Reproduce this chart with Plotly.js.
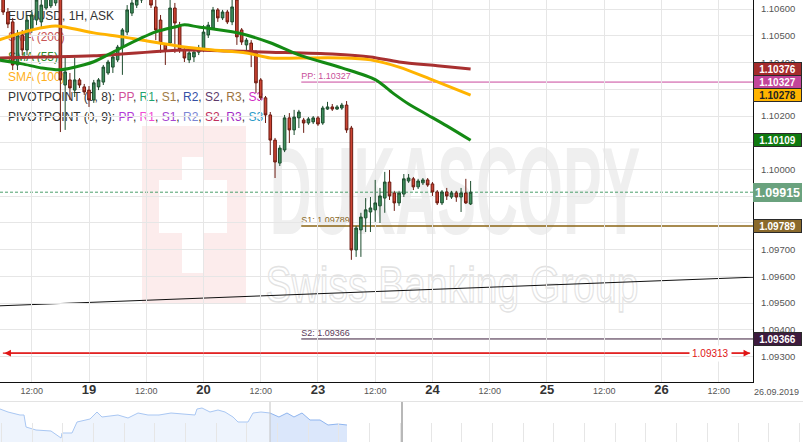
<!DOCTYPE html>
<html>
<head>
<meta charset="utf-8">
<script src="https://cdn.plot.ly/plotly-3.0.1.min.js"></script>
<style>html,body{margin:0;padding:0;background:#fff;}#chart{width:803px;height:442px;}</style>
</head>
<body>
<div id="chart"></div>
<script>
// ---------- DATA (hour index counted from 18.09.2019 00:00, weekend removed) ----------
const firstHour = 6;
const open = [
 1.10641,1.10589,1.10552,1.10391,1.10503,1.10447,1.10522,1.10559,1.10552,1.10604,
 1.10612,1.10623,1.10653,1.10316,1.10335,1.10297,1.10335,1.10309,1.10297,1.10260,
 1.10309,1.10327,1.10361,1.10383,1.10410,1.10458,1.10514,1.10585,1.10615,1.10634,
 1.10656,1.10641,1.10608,1.10559,1.10466,1.10473,1.10604,1.10540,1.10447,1.10410,
 1.10421,1.10439,1.10447,1.10503,1.10529,1.10597,1.10567,1.10589,1.10552,1.10634,
 1.10522,1.10466,1.10473,1.10439,1.10335,1.10268,1.10204,1.10110,1.10024,1.10073,
 1.10193,1.10148,1.10193,1.10185,1.10174,1.10178,1.10193,1.10174,1.10226,1.10234,
 1.10226,1.10230,1.10241,1.10155,1.09699,1.09774,1.09819,1.09841,1.09849,1.09864,
 1.09893,1.09953,1.09912,1.09875,1.09908,1.09957,1.09965,1.09935,1.09950,1.09961,
 1.09946,1.09916,1.09875,1.09916,1.09897,1.09912,1.09897,1.09912,1.09871];
const high = [
 1.10656,1.10604,1.10567,1.10522,1.10522,1.10578,1.10597,1.10664,1.10634,1.10664,
 1.10671,1.10671,1.10671,1.10417,1.10361,1.10417,1.10342,1.10320,1.10312,1.10335,
 1.10342,1.10391,1.10410,1.10432,1.10466,1.10529,1.10615,1.10634,1.10653,1.10671,
 1.10671,1.10664,1.10634,1.10578,1.10473,1.10634,1.10623,1.10552,1.10454,1.10454,
 1.10447,1.10466,1.10540,1.10552,1.10608,1.10604,1.10597,1.10597,1.10634,1.10649,
 1.10529,1.10492,1.10484,1.10447,1.10342,1.10275,1.10215,1.10118,1.10091,1.10204,
 1.10211,1.10223,1.10223,1.10193,1.10196,1.10200,1.10200,1.10238,1.10253,1.10245,
 1.10241,1.10249,1.10256,1.10163,1.09789,1.09838,1.09893,1.09897,1.09961,1.09931,
 1.09991,1.09998,1.09920,1.09920,1.09983,1.09983,1.09972,1.09965,1.09968,1.09968,
 1.09953,1.09923,1.09923,1.09931,1.09920,1.09920,1.09931,1.09965,1.09957];
const low = [
 1.10578,1.10529,1.10372,1.10372,1.10428,1.10428,1.10511,1.10540,1.10529,1.10597,
 1.10604,1.10612,1.10140,1.10148,1.10260,1.10271,1.10305,1.10279,1.10234,1.10249,
 1.10297,1.10316,1.10354,1.10361,1.10402,1.10354,1.10503,1.10574,1.10604,1.10623,
 1.10634,1.10604,1.10484,1.10436,1.10391,1.10466,1.10436,1.10436,1.10402,1.10398,
 1.10402,1.10428,1.10439,1.10492,1.10522,1.10552,1.10559,1.10544,1.10540,1.10466,
 1.10466,1.10447,1.10383,1.10286,1.10260,1.10174,1.10054,1.09968,1.10013,1.10065,
 1.10099,1.10129,1.10155,1.10137,1.10167,1.10170,1.10163,1.10167,1.10223,1.10219,
 1.10223,1.10223,1.10137,1.09662,1.09673,1.09673,1.09766,1.09766,1.09804,1.09800,
 1.09838,1.09886,1.09845,1.09864,1.09897,1.09950,1.09923,1.09927,1.09942,1.09935,
 1.09901,1.09867,1.09867,1.09886,1.09890,1.09879,1.09841,1.09871,1.09867];
const close = [
 1.10589,1.10544,1.10391,1.10503,1.10447,1.10559,1.10578,1.10634,1.10615,1.10641,
 1.10645,1.10649,1.10335,1.10365,1.10305,1.10335,1.10316,1.10290,1.10260,1.10324,
 1.10335,1.10383,1.10402,1.10421,1.10458,1.10522,1.10597,1.10623,1.10634,1.10656,
 1.10645,1.10615,1.10522,1.10473,1.10447,1.10604,1.10548,1.10447,1.10417,1.10436,
 1.10439,1.10454,1.10514,1.10540,1.10597,1.10567,1.10589,1.10552,1.10608,1.10496,
 1.10477,1.10484,1.10436,1.10324,1.10268,1.10204,1.10110,1.10028,1.10080,1.10193,
 1.10148,1.10196,1.10215,1.10174,1.10189,1.10193,1.10170,1.10230,1.10234,1.10226,
 1.10234,1.10241,1.10148,1.09699,1.09781,1.09822,1.09849,1.09856,1.09875,1.09901,
 1.09953,1.09901,1.09875,1.09912,1.09965,1.09968,1.09935,1.09957,1.09961,1.09942,
 1.09916,1.09875,1.09916,1.09901,1.09912,1.09897,1.09912,1.09875,1.09915];

const sma55Hours  = [5,10,14,18,23,25,30,35,38,42,44,47,54,57,62,68,77,84,88,91,95,99,104];
const sma55       = [1.10410,1.10395,1.10380,1.10373,1.10392,1.10403,1.10448,1.10492,1.10515,1.10533,1.10541,1.10533,1.10515,1.10503,1.10474,1.10429,1.10380,1.10336,1.10282,1.10245,1.10204,1.10163,1.10109];
const sma100Hours = [5,12,17,25,31,35,44,50,57,62,68,77,83,89,96,104];
const sma100      = [1.10484,1.10522,1.10537,1.10511,1.10496,1.10484,1.10458,1.10447,1.10436,1.10417,1.10417,1.10417,1.10410,1.10383,1.10335,1.10278];
const sma200Hours = [5,25,44,54,62,75,83,89,97,104];
const sma200      = [1.10417,1.10425,1.10447,1.10443,1.10439,1.10432,1.10421,1.10402,1.10388,1.10376];

const pivotNames  = ['PP','S1','S2'];
const pivotValues = [1.10327,1.09789,1.09366];
const pivotStart  = 68.5;
const levelValue  = 1.09313;
const trendHours  = [5.34,163.2];
const trendValues = [1.09490,1.09597];

const tickHours  = [12,24,36,48,60,72,84,96,108,120,132,144,156];
const tickLabels = ['12:00','19','12:00','20','12:00','23','12:00','24','12:00','25','12:00','26','12:00'];
const endLabel   = '26.09.2019';
const priceTicks = [1.093,1.094,1.095,1.096,1.097,1.098,1.099,1.100,1.101,1.102,1.103,1.104,1.105,1.106];
const hiddenPriceTicks = [1.099,1.101,1.103];   // covered by the value boxes in the reference

// navigator (overview) series
const navPos    = [0,1.0,2.49,2.99,3.24,4.48,6.35,6.72,7.60,7.72,8.97,9.59,11.21,12.08,12.70,14.69,15.94,17.19,18.43,19.80,21.30,24.28,24.53,25.16,26.15,27.15,28.02,29.02,29.64,30.88,31.51,32.50,33.62];
const navValues = [1.1065,1.1050,1.1035,1.1035,1.0975,1.0960,1.0955,1.0945,1.0920,1.0945,1.0945,1.1000,1.1015,1.1050,1.1025,1.1035,1.1020,1.1045,1.1035,1.1035,1.1045,1.1035,1.1065,1.1070,1.1050,1.1060,1.1050,1.1025,1.1000,1.1000,1.1045,1.1050,1.1045];
const navSelPos    = [33.62,34.74,35.74,36.61,37.61,38.61,39.85,40.85,42.09,43.21];
const navSelValues = [1.1045,1.1025,1.1045,1.1025,1.1045,1.1010,1.1010,1.0985,1.0990,1.0985];

// ---------- LAYOUT HELPERS ----------
const W = 803, H = 442, PW = 753, PB = 382;
const px = x => x / W, py = y => 1 - y / H;
const xRange = [5.34, 163.2];
const yRange = [1.09205, 1.10634];
const hours = open.map((_, i) => firstHour + i);
const FONT = 'Liberation Sans, Arial, sans-serif';

const data = [
  {type:'candlestick', x:hours, open, high, low, close, xaxis:'x', yaxis:'y',
   increasing:{line:{color:'#1d4d2e', width:1}, fillcolor:'#3e8e5c'},
   decreasing:{line:{color:'#6b1a10', width:1}, fillcolor:'#cc4433'},
   whiskerwidth:0, hoverinfo:'skip'},
  {type:'scatter', mode:'lines', x:sma200Hours, y:sma200, line:{color:'#a83030', width:3, shape:'spline', smoothing:0.8}, hoverinfo:'skip'},
  {type:'scatter', mode:'lines', x:sma100Hours, y:sma100, line:{color:'#ffb300', width:3, shape:'spline', smoothing:0.8}, hoverinfo:'skip'},
  {type:'scatter', mode:'lines', x:sma55Hours, y:sma55, line:{color:'#148a14', width:3, shape:'spline', smoothing:0.8}, hoverinfo:'skip'},
  {type:'scatter', mode:'lines', x:navPos, y:navValues, xaxis:'x2', yaxis:'y2', fill:'tozeroy', fillcolor:'#eef4fd', line:{color:'#a9c7f3', width:1}, hoverinfo:'skip'},
  {type:'scatter', mode:'lines', x:navSelPos, y:navSelValues, xaxis:'x2', yaxis:'y2', fill:'tozeroy', fillcolor:'#dbe7fb', line:{color:'#8fb5ef', width:1}, hoverinfo:'skip'}
];

function textShape(txt, x, y, size, color, extra) {
  return Object.assign({type:'rect', xref:'paper', yref:'paper', layer:'below',
    x0:px(x), x1:px(x + 420), y0:py(y + 9), y1:py(y - 9),
    line:{width:0}, fillcolor:'rgba(0,0,0,0)',
    label:{text:txt, textposition:'middle left', padding:0, font:{size:size, color:color, family:FONT}}}, extra || {});
}

const sp = (c, t) => '<span style="color:' + c + '">' + t + '</span>';
const shapes = [
  // watermark logo
  {type:'rect', xref:'paper', yref:'paper', layer:'below', x0:px(142), x1:px(246), y0:py(304), y1:py(126), line:{width:0}, fillcolor:'#fcecec'},
  {type:'rect', xref:'paper', yref:'paper', layer:'below', x0:px(182), x1:px(204), y0:py(273), y1:py(157), line:{width:0}, fillcolor:'#ffffff'},
  {type:'rect', xref:'paper', yref:'paper', layer:'below', x0:px(159), x1:px(227), y0:py(233), y1:py(180), line:{width:0}, fillcolor:'#ffffff'},
  {type:'rect', xref:'paper', yref:'paper', layer:'below', x0:px(262), x1:px(648), y0:py(232), y1:py(140), line:{width:0}, fillcolor:'rgba(0,0,0,0)',
   label:{text:'DUKASCOPY', textposition:'middle center', padding:0, font:{size:58, color:'#efefef', family:FONT, weight:'bold'}}},
  {type:'rect', xref:'paper', yref:'paper', layer:'below', x0:px(262), x1:px(642), y0:py(305), y1:py(255), line:{width:0}, fillcolor:'rgba(0,0,0,0)',
   label:{text:'Swiss Banking Group', textposition:'middle center', padding:0, font:{size:39, color:'#f0f0f0', family:FONT}}},
  // legend texts
  textShape('EUR/USD, 1H, ASK', 5, 15, 12, '#333'),
  textShape('SMA (200)', 5, 35.5, 12, '#c85656'),
  textShape('SMA (55)', 5, 55.5, 12, '#2b8a2b'),
  textShape('SMA (100)', 5, 76, 12, '#ffb020'),
  textShape('PIVOTPOINT (0, 8): ' + sp('#d0509a','PP') + ', ' + sp('#1fa36f','R1') + ', ' + sp('#a07b45','S1') + ', ' + sp('#3550a5','R2') + ', ' + sp('#5e3a6a','S2') + ', ' + sp('#9c7440','R3') + ', ' + sp('#d12fc5','S3'), 5, 96, 12, '#333'),
  textShape('PIVOTPOINT (0, 9): ' + sp('#b43ad6','PP') + ', ' + sp('#f04ad2','R1') + ', ' + sp('#a646d0','S1') + ', ' + sp('#7b86d4','R2') + ', ' + sp('#c0305e','S2') + ', ' + sp('#a22dc4','R3') + ', ' + sp('#2a9bc8','S3'), 5, 116, 12, '#333'),
  // trend line
  {type:'line', xref:'x', yref:'y', layer:'below', x0:trendHours[0], x1:trendHours[1], y0:trendValues[0], y1:trendValues[1], line:{color:'#111', width:1}},
  // current price
  {type:'line', xref:'x', yref:'y', layer:'below', x0:xRange[0], x1:xRange[1], y0:close[close.length-1], y1:close[close.length-1], line:{color:'#4a9e6a', width:1, dash:'3px,2px'}},
  // level line
  {type:'line', xref:'x', yref:'y', layer:'below', x0:xRange[0]+0.6, x1:xRange[1]-0.6, y0:levelValue, y1:levelValue, line:{color:'#e01515', width:1.2}}
];
const pivotColors = ['#c9489c','#8b6514','#3b1d3b'];
const pivotText   = ['#c8509a','#8a6a2a','#5a3a5a'];
pivotNames.forEach((n, i) => {
  shapes.push({type:'line', xref:'x', yref:'y', layer:'below', x0:pivotStart, x1:xRange[1], y0:pivotValues[i], y1:pivotValues[i],
    line:{color:pivotColors[i], width:i === 1 ? 1.5 : 1},
    label:{text:n + ': ' + pivotValues[i].toFixed(5), textposition:'start', xanchor:'left', yanchor:'bottom', padding:2, font:{size:9, color:pivotText[i], family:FONT}}});
});
// navigator handles
shapes.push({type:'line', xref:'paper', yref:'paper', x0:px(270), x1:px(270), y0:0, y1:py(402), line:{color:'#c4c4c4', width:1}});
shapes.push({type:'line', xref:'paper', yref:'paper', x0:px(402), x1:px(402), y0:0, y1:py(402), line:{color:'#a0a0a0', width:1.5}});

// right axis value boxes
function box(v, bg, fg, border, size, h) {
  return {xref:'paper', yref:'y', x:px(PW) + 0.0005, y:v, xanchor:'left', yanchor:'middle',
    text:v.toFixed(5), showarrow:false, bgcolor:bg, bordercolor:border, borderwidth:1, borderpad:1,
    width:45, height:h, font:{size:size, color:fg, family:FONT, weight:'bold'}};
}
const annotations = [
  box(sma200[sma200.length-1], '#a42b2b', '#fff', '#2a2a2a', 10, 10),
  box(pivotValues[0], '#c2459a', '#fff', '#2a2a2a', 10, 10),
  box(sma100[sma100.length-1], '#ffb400', '#222', '#2a2a2a', 10, 10),
  box(sma55[sma55.length-1], '#0f7a0f', '#fff', '#2a2a2a', 10, 10),
  box(close[close.length-1], '#6aa27e', '#fff', '#6aa27e', 12.5, 15),
  box(pivotValues[1], '#8a6a2c', '#fff', '#2a2a2a', 10, 10),
  box(pivotValues[2], '#3e1b3e', '#fff', '#2a2a2a', 10, 10),
  {xref:'x', yref:'y', axref:'x', ayref:'y', x:xRange[1]-0.6, y:levelValue, ax:xRange[0]+0.6, ay:levelValue,
   text:'', showarrow:true, arrowside:'end+start', arrowhead:2, startarrowhead:2, arrowsize:1.1, startarrowsize:1.1, arrowwidth:1.2, arrowcolor:'#e01515', standoff:0, startstandoff:0},
  {xref:'x', yref:'y', x:154.2, y:levelValue, text:levelValue.toFixed(5), showarrow:false, bgcolor:'#fff', borderpad:2,
   font:{size:10, color:'#e01515', family:FONT}},
  {xref:'paper', yref:'paper', x:px(776), y:py(392), xanchor:'center', yanchor:'middle', text:endLabel, showarrow:false, font:{size:9, color:'#555', family:FONT}}
];

const tickText = tickLabels.map(t => t.indexOf(':') >= 0 ? t : '<span style="font-size:13px;color:#333"><b>' + t + '</b></span>');
const priceTickText = priceTicks.map(v => hiddenPriceTicks.some(h => Math.abs(h - v) < 1e-9) ? '' : v.toFixed(5));

const layout = {
  width:W, height:H, margin:{l:0, r:0, t:0, b:0},
  paper_bgcolor:'#fff', plot_bgcolor:'rgba(0,0,0,0)',
  font:{family:FONT, color:'#333'}, showlegend:false, boxgap:0.22,
  xaxis:{domain:[0, px(PW)], anchor:'y', range:xRange, tickmode:'array', tickvals:tickHours, ticktext:tickText,
    tickfont:{size:9, color:'#555'}, showgrid:true, gridcolor:'#e6e6e6', zeroline:false,
    showline:true, linecolor:'#111', linewidth:1, ticks:'', rangeslider:{visible:false}, fixedrange:true},
  yaxis:{domain:[1 - PB / H, 1], anchor:'x', side:'right', range:yRange, tickmode:'array', tickvals:priceTicks,
    ticktext:priceTickText, tickfont:{size:9.5, color:'#555'}, showgrid:true, gridcolor:'#e6e6e6', zeroline:false,
    showline:true, linecolor:'#111', linewidth:1, ticks:'', ticklabelstandoff:5, fixedrange:true},
  xaxis2:{domain:[0, 1], anchor:'y2', range:[0, 100], showticklabels:false, ticks:'inside', ticklen:19,
    tickcolor:'#e6e6e6', tickmode:'linear', tick0:3.985, dtick:3.823, showgrid:false, zeroline:false,
    showline:true, mirror:true, linecolor:'#e3e3e3'},
  yaxis2:{domain:[0, 40 / H], anchor:'x2', range:[1.0900, 1.1100], visible:false},
  shapes:shapes, annotations:annotations
};

Plotly.newPlot('chart', data, layout, {displayModeBar:false, staticPlot:true}).then(function () {
  document.querySelectorAll('#chart text').forEach(function (t) {
    const s = t.textContent;
    if (s === 'DUKASCOPY') {
      t.style.transformBox = 'fill-box'; t.style.transformOrigin = 'center'; t.style.transform = 'scaleY(2.15)';
    } else if (s === 'Swiss Banking Group') {
      t.style.transformBox = 'fill-box'; t.style.transformOrigin = 'center'; t.style.transform = 'scaleY(1.3)';
      t.style.fill = 'none'; t.style.stroke = '#e2e2e2'; t.style.strokeWidth = '1px';
    }
  });
});
</script>
</body>
</html>
